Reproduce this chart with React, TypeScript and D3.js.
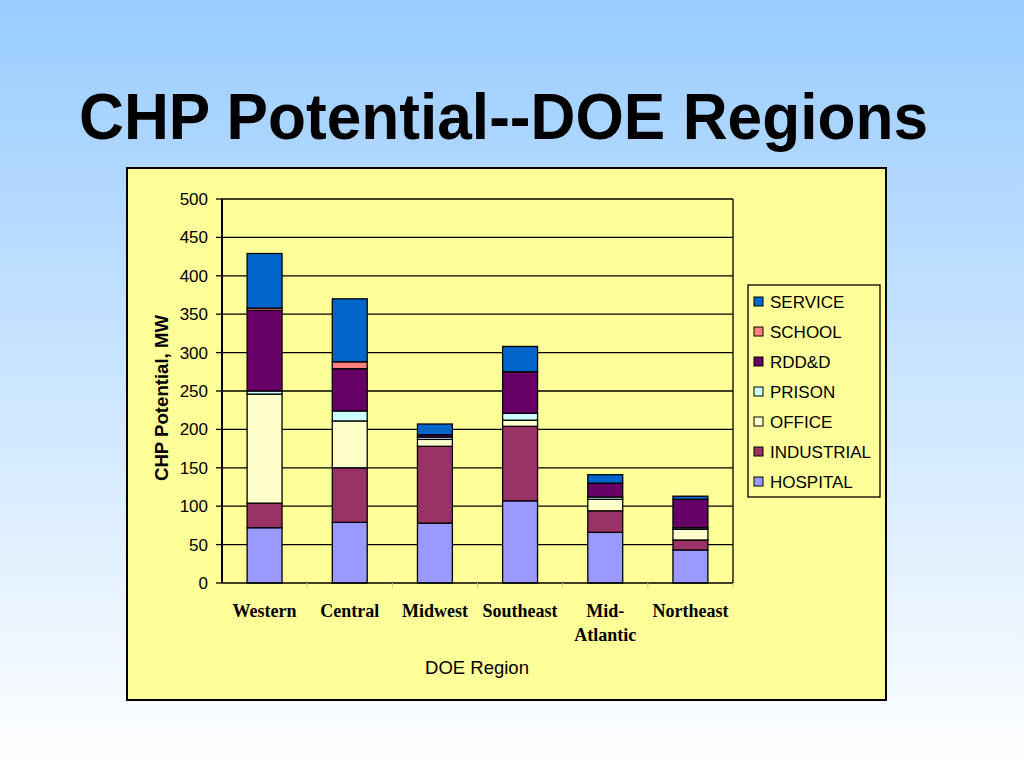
import React from 'react';
import * as d3 from 'd3';

// regions on the x axis (label lines)
const regions = ['Western', 'Central', 'Midwest', 'Southeast', 'Mid-Atlantic', 'Northeast'];
const regionLines = [['Western'], ['Central'], ['Midwest'], ['Southeast'], ['Mid-', 'Atlantic'], ['Northeast']];

// series, bottom to top (MW)
const hospital = [72, 79, 78, 107, 66, 43];
const industrial = [32, 71, 100, 97, 28, 13];
const office = [142, 61, 9, 8, 15, 14];
const prison = [4, 13, 3, 9, 3, 2];
const rddd = [105, 55, 3, 54, 18, 37];
const school = [3, 9, 0, 0, 0, 0];
const service = [71, 82, 14, 33, 11, 4];

const seriesNames = ['HOSPITAL', 'INDUSTRIAL', 'OFFICE', 'PRISON', 'RDD&D', 'SCHOOL', 'SERVICE'];
const seriesValues = [hospital, industrial, office, prison, rddd, school, service];
const seriesColors = ['#9999FF', '#993366', '#FFFFCC', '#CCFFFF', '#660066', '#FF8080', '#0066CC'];

const yTicks = [0, 50, 100, 150, 200, 250, 300, 350, 400, 450, 500];

const W = 1024;
const H = 768;
const plot = { left: 222, right: 733, top: 199, bottom: 583 };

const App: React.FC = () => {
  const rows = regions.map((r, i) => {
    const row: Record<string, number | string> = { region: r };
    seriesNames.forEach((s, j) => (row[s] = seriesValues[j][i]));
    return row;
  });
  const stacked = d3.stack<Record<string, number | string>>().keys(seriesNames)(rows as any);

  const x = d3.scaleBand().domain(regions).range([plot.left, plot.right]).paddingInner(0.59).paddingOuter(0.295);
  const y = d3.scaleLinear().domain([0, 500]).range([plot.bottom, plot.top]);
  const step = (plot.right - plot.left) / regions.length;

  const legendOrder = [...seriesNames.keys()].reverse();

  return (
    <svg width={W} height={H} style={{ position: 'absolute', left: 0, top: 0 }} fontFamily="Arial, 'Liberation Sans', sans-serif">
      <defs>
        <linearGradient id="bg" x1="0" y1="0" x2="0" y2="1">
          <stop offset="0%" stopColor="#99CCFF" />
          <stop offset="100%" stopColor="#FFFFFF" />
        </linearGradient>
      </defs>
      <rect width={W} height={H} fill="url(#bg)" />
      <text x={79} y={139} fontSize={64} fontWeight="bold" fill="#000" textLength={849} lengthAdjust="spacingAndGlyphs">
        CHP Potential--DOE Regions
      </text>

      <rect x={127} y={168} width={759} height={532} fill="#FFFF99" stroke="#000" strokeWidth={2} />

      {/* gridlines and y ticks */}
      {yTicks.map((t) => (
        <g key={t}>
          {t > 0 && <line x1={plot.left} x2={plot.right} y1={y(t)} y2={y(t)} stroke="#000" strokeWidth={1.3} />}
          <line x1={plot.left - 6} x2={plot.left} y1={y(t)} y2={y(t)} stroke="#000" strokeWidth={1.3} />
          <text x={208} y={y(t)} dy="0.35em" textAnchor="end" fontSize={17}>
            {t}
          </text>
        </g>
      ))}
      <line x1={plot.right} x2={plot.right} y1={plot.top} y2={plot.bottom} stroke="#000" strokeWidth={1.3} />

      {/* bars */}
      {stacked.map((s, j) => (
        <g key={s.key} fill={seriesColors[j]}>
          {s.map((d, i) =>
            d[1] - d[0] > 0 ? (
              <rect
                key={i}
                x={x(regions[i])!}
                y={y(d[1])}
                width={x.bandwidth()}
                height={y(d[0]) - y(d[1])}
                stroke="#000"
                strokeWidth={1.3}
              />
            ) : null
          )}
        </g>
      ))}

      {/* axes */}
      <line x1={plot.left} x2={plot.left} y1={plot.top} y2={plot.bottom} stroke="#000" strokeWidth={2} />
      <line x1={plot.left} x2={plot.right} y1={plot.bottom} y2={plot.bottom} stroke="#000" strokeWidth={1.3} />
      {regions.map((_, i) => (
        <line key={i} x1={plot.left + step * (i + 1)} x2={plot.left + step * (i + 1)} y1={plot.bottom} y2={plot.bottom + 5} stroke="#cccc88" strokeWidth={1} />
      ))}
      {regionLines.map((lines, i) => (
        <text key={i} x={x(regions[i])! + x.bandwidth() / 2} y={617} textAnchor="middle" fontFamily="'Liberation Serif', 'Times New Roman', serif" fontWeight="bold" fontSize={18}>
          {lines.map((l, k) => (
            <tspan key={k} x={x(regions[i])! + x.bandwidth() / 2} dy={k === 0 ? 0 : 24}>
              {l}
            </tspan>
          ))}
        </text>
      ))}
      <text x={477} y={674} textAnchor="middle" fontSize={18.5}>
        DOE Region
      </text>
      <text
        transform={`translate(168,398) rotate(-90)`}
        textAnchor="middle"
        fontSize={18}
        fontWeight="bold"
        textLength={166}
        lengthAdjust="spacingAndGlyphs"
      >
        CHP Potential, MW
      </text>

      {/* legend */}
      <rect x={748} y={285} width={132} height={212} fill="#FFFF99" stroke="#000" strokeWidth={1.3} />
      {legendOrder.map((j, k) => (
        <g key={j} transform={`translate(754,${302 + k * 30})`}>
          <rect x={0} y={-5} width={9} height={9} fill={seriesColors[j]} stroke="#000" strokeWidth={1} />
          <text x={16} y={0} dy="0.35em" fontSize={17}>
            {seriesNames[j]}
          </text>
        </g>
      ))}
    </svg>
  );
};

export default App;
